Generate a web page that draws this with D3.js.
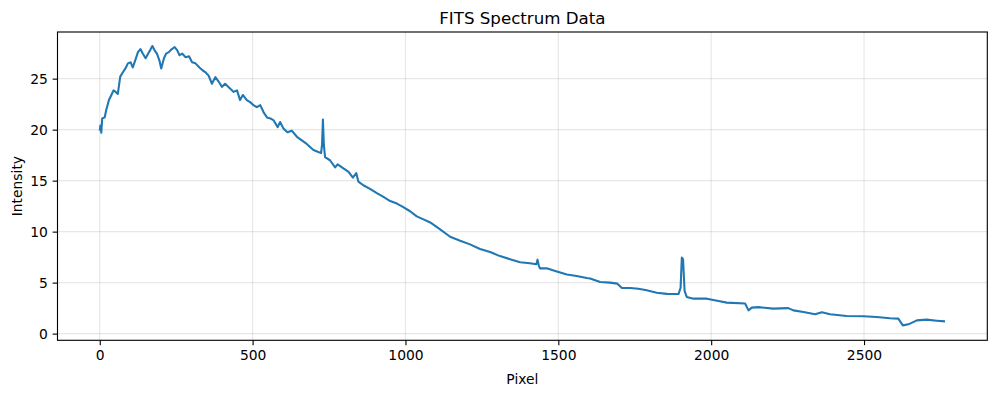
<!DOCTYPE html>
<html>
<head>
<meta charset="utf-8">
<script src="https://cdn.jsdelivr.net/npm/d3@7"></script>
<style>
  body { margin: 0; background: #fff; }
  text { font-family: "DejaVu Sans", sans-serif; fill: #000; }
</style>
</head>
<body>
<div id="chart"></div>
<script>
// pixel positions and intensities
const pixels = [
  0, 2, 5, 8, 16, 21, 30, 38, 45, 52, 59, 67, 75, 84, 92, 101, 108, 116, 125, 133,
  141, 150, 158, 165, 172, 179, 187, 195, 201, 210, 217, 226, 234, 245, 253, 261, 270, 281, 292, 302,
  313, 326, 337, 345, 356, 367, 378, 389, 400, 410, 427, 438, 449, 459, 468, 481, 492, 503, 514, 525,
  536, 547, 558, 569, 582, 590, 601, 614, 628, 645, 661, 677, 699, 715, 724, 727, 730, 733, 737, 753,
  770, 778, 797, 814, 828, 839, 846, 862, 884, 905, 928, 950, 972, 993, 1015, 1037, 1059, 1081, 1110, 1146,
  1179, 1211, 1244, 1277, 1309, 1342, 1375, 1407, 1428, 1432, 1436, 1440, 1462, 1495, 1528, 1560, 1593, 1604, 1637, 1669,
  1693, 1708, 1735, 1762, 1789, 1822, 1855, 1893, 1900, 1904, 1908, 1913, 1920, 1942, 1986, 2024, 2051, 2111, 2122, 2133,
  2155, 2203, 2252, 2269, 2302, 2340, 2362, 2389, 2443, 2498, 2541, 2585, 2612, 2627, 2645, 2673, 2705, 2738, 2765
];
const intensity = [
  19.9, 20.4, 19.7, 21.1, 21.2, 21.9, 22.9, 23.4, 23.85, 23.7, 23.5, 25.2, 25.6, 26.0, 26.5, 26.6, 26.1, 26.8, 27.6, 27.9,
  27.45, 27.0, 27.45, 27.8, 28.2, 27.8, 27.45, 26.8, 26.0, 27.0, 27.45, 27.6, 27.85, 28.1, 27.8, 27.3, 27.45, 27.1, 27.2, 26.6,
  26.5, 26.1, 25.8, 25.65, 25.3, 24.5, 25.15, 24.7, 24.2, 24.5, 24.0, 23.7, 23.85, 22.9, 23.4, 22.9, 22.7, 22.4, 22.2, 22.4,
  21.7, 21.2, 21.1, 20.9, 20.25, 20.75, 20.1, 19.75, 19.9, 19.3, 18.95, 18.6, 18.0, 17.8, 17.7, 18.5, 21.0, 18.5, 17.3, 17.0,
  16.3, 16.6, 16.2, 15.85, 15.3, 15.75, 14.9, 14.55, 14.2, 13.8, 13.4, 13.0, 12.75, 12.4, 12.0, 11.5, 11.2, 10.9, 10.3, 9.5,
  9.1, 8.75, 8.3, 8.0, 7.6, 7.3, 7.0, 6.9, 6.8, 7.25, 6.7, 6.4, 6.4, 6.1, 5.8, 5.65, 5.45, 5.4, 5.06, 5.0,
  4.9, 4.47, 4.47, 4.4, 4.25, 4.0, 3.9, 3.88, 4.5, 7.45, 7.3, 4.2, 3.6, 3.43, 3.43, 3.2, 3.04, 2.95, 2.28, 2.55,
  2.6, 2.45, 2.5, 2.28, 2.12, 1.9, 2.09, 1.9, 1.73, 1.7, 1.63, 1.5, 1.47, 0.81, 0.91, 1.3, 1.37, 1.27, 1.2
];
const xTicks = [0, 500, 1000, 1500, 2000, 2500];
const yTicks = [0, 5, 10, 15, 20, 25];

const width = 996, height = 393;
const margin = { left: 57.5, right: 8.7, top: 32, bottom: 52.7 };
const pt = 100 / 72; // matplotlib points at dpi 100

const svg = d3.select('#chart').append('svg')
  .attr('width', width)
  .attr('height', height);

// matplotlib style 5% padding around the data
const xExt = [0, 2765], yExt = [0.72, 28.2];
const xPad = (xExt[1] - xExt[0]) * 0.05, yPad = (yExt[1] - yExt[0]) * 0.05;

const x = d3.scaleLinear()
  .domain([xExt[0] - xPad, xExt[1] + xPad])
  .range([margin.left, width - margin.right]);
const y = d3.scaleLinear()
  .domain([yExt[0] - yPad, yExt[1] + yPad])
  .range([height - margin.bottom, margin.top]);

// grid
const grid = svg.append('g');
grid.selectAll('.gx').data(xTicks).join('line')
  .attr('x1', d => x(d)).attr('x2', d => x(d))
  .attr('y1', margin.top).attr('y2', height - margin.bottom)
  .attr('stroke', '#b0b0b0').attr('stroke-opacity', 0.3).attr('stroke-width', 0.8 * pt);
grid.selectAll('.gy').data(yTicks).join('line')
  .attr('y1', d => y(d)).attr('y2', d => y(d))
  .attr('x1', margin.left).attr('x2', width - margin.right)
  .attr('stroke', '#b0b0b0').attr('stroke-opacity', 0.3).attr('stroke-width', 0.8 * pt);

// spectrum line
const pts = pixels.map((p, i) => [p, intensity[i]]);
svg.append('path')
  .datum(pts)
  .attr('fill', 'none')
  .attr('stroke', '#1f77b4')
  .attr('stroke-width', 1.5 * pt)
  .attr('stroke-linejoin', 'round')
  .attr('d', d3.line().x(d => x(d[0])).y(d => y(d[1])));

// axes
const xAxis = svg.append('g')
  .attr('transform', `translate(0,${height - margin.bottom})`)
  .call(d3.axisBottom(x).tickValues(xTicks).tickSize(3.5 * pt).tickPadding(3.5 * pt).tickFormat(d3.format('d')));
const yAxis = svg.append('g')
  .attr('transform', `translate(${margin.left},0)`)
  .call(d3.axisLeft(y).tickValues(yTicks).tickSize(3.5 * pt).tickPadding(3.5 * pt).tickFormat(d3.format('d')));
[xAxis, yAxis].forEach(g => {
  g.select('.domain').remove();
  g.selectAll('line').attr('stroke', '#000').attr('stroke-width', 0.8 * pt);
  g.selectAll('text').attr('font-size', 10 * pt).attr('font-family', 'DejaVu Sans, sans-serif').attr('fill', '#000');
});

// frame
svg.append('rect')
  .attr('x', margin.left).attr('y', margin.top)
  .attr('width', width - margin.left - margin.right)
  .attr('height', height - margin.top - margin.bottom)
  .attr('fill', 'none').attr('stroke', '#000').attr('stroke-width', 0.8 * pt);

// labels
const cx = (margin.left + width - margin.right) / 2;
svg.append('text')
  .attr('x', cx).attr('y', 24)
  .attr('text-anchor', 'middle').attr('font-size', 12 * pt)
  .text('FITS Spectrum Data');
svg.append('text')
  .attr('x', cx).attr('y', 384)
  .attr('text-anchor', 'middle').attr('font-size', 10 * pt)
  .text('Pixel');
svg.append('text')
  .attr('transform', `translate(22,${(margin.top + height - margin.bottom) / 2}) rotate(-90)`)
  .attr('text-anchor', 'middle').attr('font-size', 10 * pt)
  .text('Intensity');
</script>
</body>
</html>
